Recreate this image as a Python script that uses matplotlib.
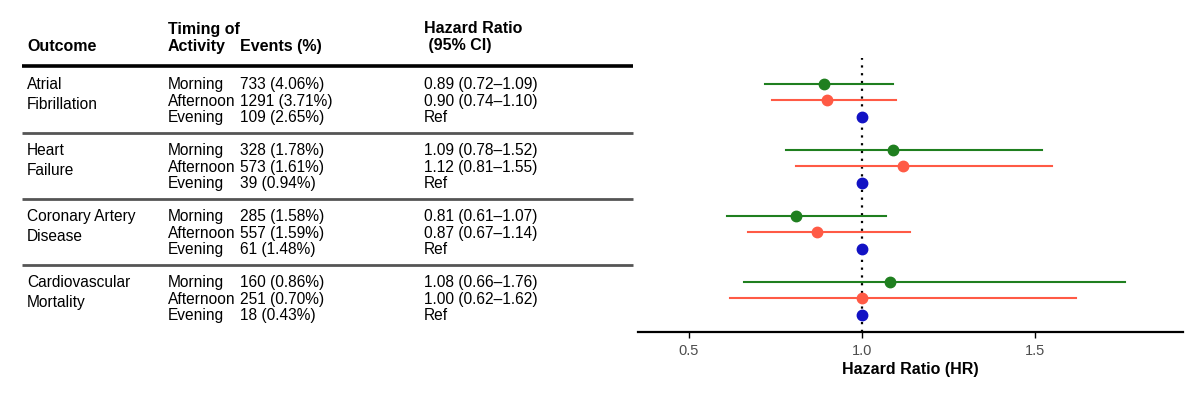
import numpy as np
import matplotlib.pyplot as plt

plt.rcParams['font.family'] = ['Liberation Sans', 'DejaVu Sans']

# data
outcomes = ['Atrial\nFibrillation', 'Heart\nFailure', 'Coronary Artery\nDisease', 'Cardiovascular\nMortality']
timing = ['Morning', 'Afternoon', 'Evening']
events = [
    ['733 (4.06%)', '1291 (3.71%)', '109 (2.65%)'],
    ['328 (1.78%)', '573 (1.61%)', '39 (0.94%)'],
    ['285 (1.58%)', '557 (1.59%)', '61 (1.48%)'],
    ['160 (0.86%)', '251 (0.70%)', '18 (0.43%)'],
]
hr = [[0.89, 0.90, 1.00], [1.09, 1.12, 1.00], [0.81, 0.87, 1.00], [1.08, 1.00, 1.00]]
hr_lo = [[0.72, 0.74, 1.00], [0.78, 0.81, 1.00], [0.61, 0.67, 1.00], [0.66, 0.62, 1.00]]
hr_hi = [[1.09, 1.10, 1.00], [1.52, 1.55, 1.00], [1.07, 1.14, 1.00], [1.76, 1.62, 1.00]]
hr_text = [
    ['0.89 (0.72\u20131.09)', '0.90 (0.74\u20131.10)', 'Ref'],
    ['1.09 (0.78\u20131.52)', '1.12 (0.81\u20131.55)', 'Ref'],
    ['0.81 (0.61\u20131.07)', '0.87 (0.67\u20131.14)', 'Ref'],
    ['1.08 (0.66\u20131.76)', '1.00 (0.62\u20131.62)', 'Ref'],
]
colors = ['#1f7f1f', '#ff5a45', '#1212c4']

# y positions: 3 rows per group, one empty slot between groups
ypos = np.array([[g * 4 + i for i in range(3)] for g in range(4)], dtype=float)
ylim = (15.0, -5.15)

fig = plt.figure(figsize=(12, 4.06), dpi=100)
bottom = 1 - 332.5 / 406
height = 1 - bottom

# ---- table ----
tab = fig.add_axes([0, bottom, 636 / 1200, height])
tab.set_xlim(0, 636)
tab.set_ylim(*ylim)
tab.axis('off')

def px(y):
    return (y - 85) / 16.5

col_x = [27, 168, 240, 424]
hfs = 11.5
tab.text(col_x[0], px(47), 'Outcome', fontsize=hfs, fontweight='bold', va='center')
tab.text(col_x[1], px(30), 'Timing of', fontsize=hfs, fontweight='bold', va='center')
tab.text(col_x[1], px(47), 'Activity', fontsize=hfs, fontweight='bold', va='center')
tab.text(col_x[2], px(47), 'Events (%)', fontsize=hfs, fontweight='bold', va='center')
tab.text(col_x[3], px(29), 'Hazard Ratio', fontsize=hfs, fontweight='bold', va='center')
tab.text(col_x[3], px(46), ' (95% CI)', fontsize=hfs, fontweight='bold', va='center')

tab.plot([22, 633], [px(67.5), px(67.5)], color='black', lw=2.6, solid_capstyle='butt')
for g in range(1, 4):
    yy = ypos[g, 0] - 1
    tab.plot([22, 633], [yy, yy], color='#555555', lw=2.0, solid_capstyle='butt')

fs = 11.2
for g in range(4):
    tab.text(col_x[0], ypos[g, 0] + 0.6, outcomes[g], fontsize=fs, va='center',
             linespacing=1.4)
    for i in range(3):
        y = ypos[g, i]
        tab.text(col_x[1], y, timing[i], fontsize=fs, va='center')
        tab.text(col_x[2], y, events[g][i], fontsize=fs, va='center')
        tab.text(col_x[3], y, hr_text[g][i], fontsize=fs, va='center')

# ---- forest plot ----
ax = fig.add_axes([638 / 1200, bottom, (1183 - 638) / 1200, height])
ax.set_xlim(0.353, 1.928)
ax.set_ylim(*ylim)
ax.axvline(1.0, ymin=0, ymax=(ylim[0] - px(59)) / (ylim[0] - ylim[1]),
           color='black', ls=(0, (1, 2.5)), lw=1.6, zorder=1)
for g in range(4):
    for i in range(3):
        y = ypos[g, i]
        ax.plot([hr_lo[g][i], hr_hi[g][i]], [y, y], color=colors[i], lw=1.5, zorder=2)
        ax.plot(hr[g][i], y, 'o', color=colors[i], ms=7.5, zorder=3)

for s in ['top', 'left', 'right']:
    ax.spines[s].set_visible(False)
ax.spines['bottom'].set_linewidth(1.6)
ax.set_yticks([])
ax.set_xticks([0.5, 1.0, 1.5])
ax.set_xticklabels(['0.5', '1.0', '1.5'])
ax.tick_params(axis='x', length=4, width=1, colors='black', labelcolor='#4d4d4d',
               labelsize=10.5, pad=4)
ax.set_xlabel('Hazard Ratio (HR)', fontsize=11.5, fontweight='bold', labelpad=3)

fig.savefig('out.png', dpi=100)
